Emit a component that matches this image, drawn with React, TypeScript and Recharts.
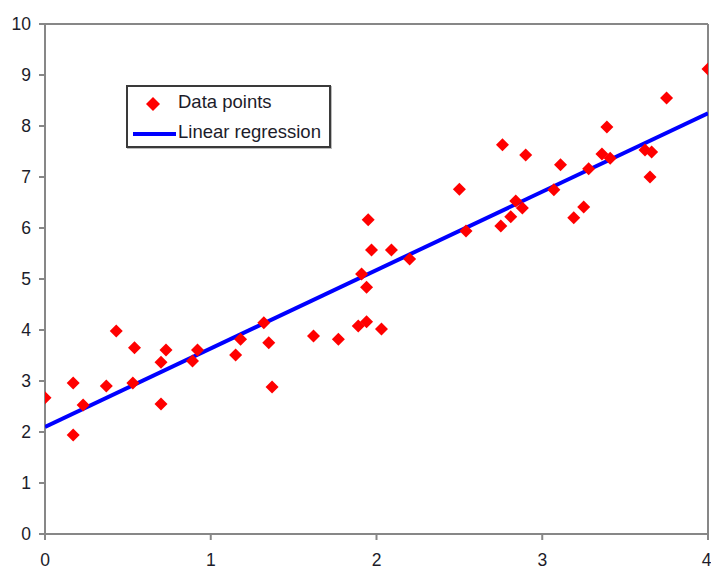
import React from 'react'
import {
  ComposedChart,
  Scatter,
  XAxis,
  YAxis,
  ReferenceLine,
  Legend,
} from 'recharts'

// values
const pointX = [
  0.0, 0.17, 0.17, 0.23, 0.37, 0.43, 0.53, 0.54, 0.7, 0.7,
  0.73, 0.89, 0.92, 1.15, 1.18, 1.32, 1.35, 1.37, 1.62, 1.77,
  1.89, 1.91, 1.94, 1.94, 1.95, 1.97, 2.03, 2.09, 2.2, 2.5,
  2.54, 2.75, 2.76, 2.81, 2.84, 2.88, 2.9, 3.07, 3.11, 3.19,
  3.25, 3.28, 3.36, 3.39, 3.41, 3.62, 3.65, 3.66, 3.75, 4.0,
]
const pointY = [
  2.67, 2.96, 1.94, 2.53, 2.9, 3.98, 2.96, 3.65, 2.55, 3.37,
  3.61, 3.39, 3.61, 3.51, 3.82, 4.14, 3.75, 2.88, 3.88, 3.82,
  4.08, 5.1, 4.84, 4.16, 6.16, 5.57, 4.02, 5.57, 5.39, 6.76,
  5.94, 6.04, 7.63, 6.22, 6.53, 6.39, 7.43, 6.75, 7.24, 6.2,
  6.41, 7.16, 7.45, 7.98, 7.37, 7.53, 7.0, 7.49, 8.55, 9.12,
]
const fitX = [0, 4]
const fitY = [2.1, 8.25]

const xTicks = [0, 1, 2, 3, 4]
const yTicks = [0, 1, 2, 3, 4, 5, 6, 7, 8, 9, 10]

const points = pointX.map((x, i) => ({ x, y: pointY[i] }))
const fitLine = fitX.map((x, i) => ({ x, y: fitY[i] }))

const RED = '#ff0000'
const BLUE = '#0000ff'
const AXIS = '#878787'
const TEXT = '#1c1c2a'
const FONT = 'Arial, "Liberation Sans", sans-serif'

const Diamond = (props: any) => {
  const { cx, cy } = props
  const r = 6.5
  if (cx == null || cy == null) return null
  return <polygon points={`${cx},${cy - r} ${cx + r},${cy} ${cx},${cy + r} ${cx - r},${cy}`} fill={RED} />
}

const LegendBox = () => (
  <div
    style={{
      width: 205,
      height: 63,
      boxSizing: 'border-box',
      border: '2px solid #3a3a3a',
      background: '#fff',
      boxShadow: '1px 1px 0 #bbb',
      position: 'relative',
      fontFamily: FONT,
      fontSize: 18.5,
      color: TEXT,
    }}
  >
    <svg width={50} height={60} style={{ position: 'absolute', left: 0, top: 0 }}>
      <polygon points="25,10 32,17 25,24 18,17" fill={RED} />
      <line x1={5} y1={47} x2={48} y2={47} stroke={BLUE} strokeWidth={4} />
    </svg>
    <div style={{ position: 'absolute', left: 50, top: 4, whiteSpace: 'nowrap' }}>Data points</div>
    <div style={{ position: 'absolute', left: 50, top: 34, whiteSpace: 'nowrap' }}>Linear regression</div>
  </div>
)

export default function App() {
  return (
    <div style={{ position: 'absolute', left: 0, top: 0, width: 711, height: 570, background: '#fff' }}>
      <ComposedChart
        width={711}
        height={570}
        margin={{ top: 24, right: 3, bottom: 0, left: 0 }}
      >
        <XAxis
          type="number"
          dataKey="x"
          domain={[0, 4]}
          ticks={xTicks}
          allowDataOverflow
          height={36}
          stroke={AXIS}
          strokeWidth={2}
          tickSize={6}
          tickMargin={14}
          tick={{ fill: TEXT, fontSize: 17.5, fontFamily: FONT }}
        />
        <YAxis
          type="number"
          dataKey="y"
          domain={[0, 10]}
          ticks={yTicks}
          allowDataOverflow
          width={45}
          stroke={AXIS}
          strokeWidth={2}
          tickSize={6}
          tickMargin={8}
          tick={{ fill: TEXT, fontSize: 17.5, fontFamily: FONT }}
        />
        <ReferenceLine y={10} stroke={AXIS} strokeWidth={2} ifOverflow="extendDomain" />
        <ReferenceLine x={4} stroke={AXIS} strokeWidth={2} ifOverflow="extendDomain" />
        <Scatter
          name="Linear regression"
          data={fitLine}
          line={{ stroke: BLUE, strokeWidth: 4 }}
          lineType="joint"
          shape={() => <g />}
          isAnimationActive={false}
        />
        <Scatter
          name="Data points"
          data={points}
          shape={Diamond}
          isAnimationActive={false}
        />
        <Legend
          layout="vertical"
          align="center"
          verticalAlign="middle"
          wrapperStyle={{ left: 126, top: 85, width: 205, height: 63 }}
          content={() => <LegendBox />}
        />
      </ComposedChart>
    </div>
  )
}
